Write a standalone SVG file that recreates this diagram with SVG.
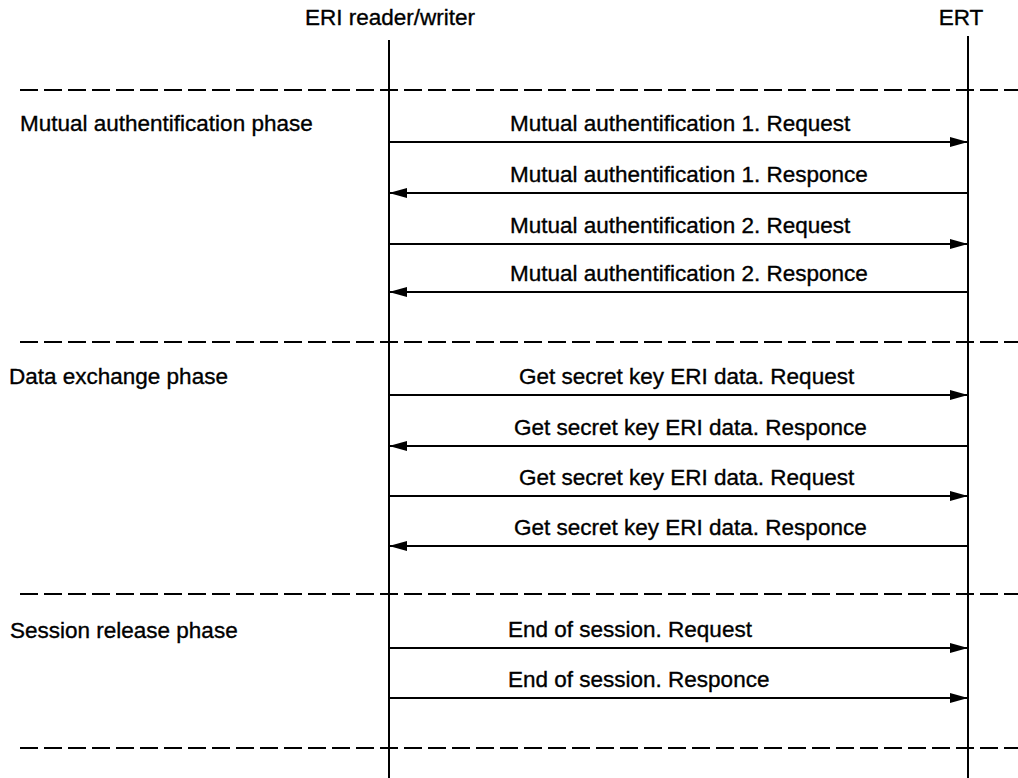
<svg xmlns="http://www.w3.org/2000/svg" width="1018" height="778" viewBox="0 0 1018 778">
  <style>
    text { font-family: "Liberation Sans", Arial, sans-serif; font-size: 22.5px; fill: #000; stroke: #000; stroke-width: 0.35; }
    .life { stroke: #000; stroke-width: 2; fill: none; }
    .phase { stroke: #000; stroke-width: 2; stroke-dasharray: 18 6; fill: none; }
    .msg { stroke: #000; stroke-width: 2; fill: none; }
  </style>
  <defs>
    <marker id="ah" viewBox="0 0 18 10" refX="18" refY="5" markerWidth="18" markerHeight="10" markerUnits="userSpaceOnUse" orient="auto">
      <path d="M0,0 L18,5 L0,10 Z" fill="#000"/>
    </marker>
  </defs>

  <rect width="1018" height="778" fill="#fff"/>

  <!-- participants -->
  <g id="reader">
    <text x="390" y="25" text-anchor="middle">ERI reader/writer</text>
    <line class="life" x1="389" y1="40" x2="389" y2="778"/>
  </g>
  <g id="ert">
    <text x="961" y="25" text-anchor="middle" font-size="19">ERT</text>
    <line class="life" x1="968" y1="36" x2="968" y2="778"/>
  </g>

  <!-- phase separators and titles -->
  <g id="phases">
    <line class="phase" x1="20" y1="90" x2="1018" y2="90"/>
    <line class="phase" x1="20" y1="342" x2="1018" y2="342"/>
    <line class="phase" x1="20" y1="594" x2="1018" y2="594"/>
    <line class="phase" x1="20" y1="748" x2="1018" y2="748"/>
    <text x="20" y="131">Mutual authentification phase</text>
    <text x="9" y="384">Data exchange phase</text>
    <text x="10" y="638">Session release phase</text>
  </g>

  <!-- messages -->
  <g id="connectors">
    <line class="msg" x1="389" y1="142" x2="968" y2="142" marker-end="url(#ah)"/>
    <line class="msg" x1="968" y1="193" x2="389" y2="193" marker-end="url(#ah)"/>
    <line class="msg" x1="389" y1="244" x2="968" y2="244" marker-end="url(#ah)"/>
    <line class="msg" x1="968" y1="292" x2="389" y2="292" marker-end="url(#ah)"/>
    <line class="msg" x1="389" y1="395" x2="968" y2="395" marker-end="url(#ah)"/>
    <line class="msg" x1="968" y1="446" x2="389" y2="446" marker-end="url(#ah)"/>
    <line class="msg" x1="389" y1="496" x2="968" y2="496" marker-end="url(#ah)"/>
    <line class="msg" x1="968" y1="546" x2="389" y2="546" marker-end="url(#ah)"/>
    <line class="msg" x1="389" y1="648" x2="968" y2="648" marker-end="url(#ah)"/>
    <line class="msg" x1="389" y1="698" x2="968" y2="698" marker-end="url(#ah)"/>
  </g>

  <g id="labels">
    <text x="510" y="131">Mutual authentification 1. Request</text>
    <text x="510" y="182">Mutual authentification 1. Responce</text>
    <text x="510" y="233">Mutual authentification 2. Request</text>
    <text x="510" y="281">Mutual authentification 2. Responce</text>
    <text x="519" y="384">Get secret key ERI data. Request</text>
    <text x="514" y="435">Get secret key ERI data. Responce</text>
    <text x="519" y="485">Get secret key ERI data. Request</text>
    <text x="514" y="535">Get secret key ERI data. Responce</text>
    <text x="508" y="637">End of session. Request</text>
    <text x="508" y="687">End of session. Responce</text>
  </g>
</svg>
